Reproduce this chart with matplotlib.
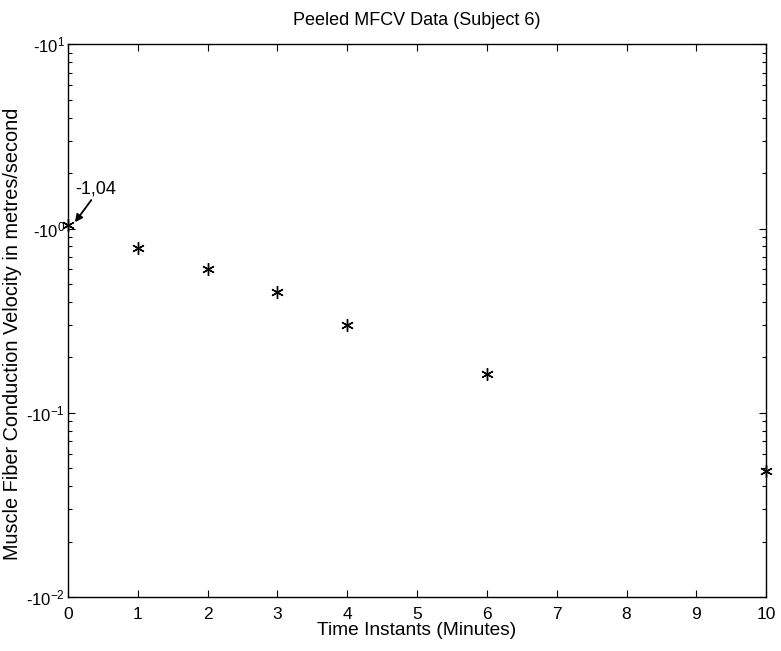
import math
import matplotlib
matplotlib.use('Agg')
import matplotlib.pyplot as plt
from matplotlib.ticker import FixedLocator, FuncFormatter, LogLocator, NullFormatter

plt.rcParams['font.family'] = ['Liberation Sans', 'DejaVu Sans']
plt.rcParams['mathtext.fontset'] = 'custom'
plt.rcParams['mathtext.rm'] = 'Liberation Sans'
plt.rcParams['mathtext.default'] = 'regular'

# peeled MFCV readings (m/s)
minutes = [0, 1, 2, 3, 4, 6, 10]
mfcv = [-1.04, -0.78, -0.60, -0.45, -0.30, -0.163, -0.048]
x_ticks = [0, 1, 2, 3, 4, 5, 6, 7, 8, 9, 10]
y_decades = [-2, -1, 0, 1]
note_text = '-1,04'

fig = plt.figure(figsize=(7.81, 6.51), dpi=100)
ax = fig.add_axes([0.087, 0.083, 0.894, 0.849])

mag = [-v for v in mfcv]
ax.plot(minutes, mag, linestyle='none', marker=(6, 2, 0), markersize=9,
        color='black', markeredgewidth=1.0, clip_on=False)

ax.set_yscale('log')
ax.set_ylim(10.0 ** y_decades[0], 10.0 ** y_decades[-1])
ax.set_xlim(x_ticks[0], x_ticks[-1])
ax.xaxis.set_major_locator(FixedLocator(x_ticks))
ax.yaxis.set_major_locator(FixedLocator([10.0 ** d for d in y_decades]))
ax.yaxis.set_minor_locator(LogLocator(base=10, subs=range(2, 10)))
ax.yaxis.set_minor_formatter(NullFormatter())
ax.yaxis.set_major_formatter(FuncFormatter(
    lambda v, pos: '-10$^{%d}$' % round(math.log10(v))))

ax.tick_params(which='both', direction='in', top=True, right=True, width=0.8)
ax.tick_params(axis='x', labelsize=12.5, pad=7)
ax.tick_params(axis='y', labelsize=12, pad=2)
ax.tick_params(which='major', length=5)
ax.tick_params(which='minor', length=3)
for s in ax.spines.values():
    s.set_linewidth(1.0)

ax.annotate(note_text, xy=(minutes[0] + 0.1, mag[0] * 1.04),
            xytext=(minutes[0] + 0.1, mag[0] * 1.42),
            fontsize=13, ha='left', va='bottom',
            arrowprops=dict(arrowstyle='-|>', color='black', lw=1.3,
                            shrinkA=0, shrinkB=0, mutation_scale=11,
                            relpos=(0.45, 0.0)))

ax.set_title('Peeled MFCV Data (Subject 6)', fontsize=13, pad=14)
ax.set_xlabel('Time Instants (Minutes)', fontsize=13.8)
ax.xaxis.set_label_coords(0.5, -0.046)
ax.set_ylabel('Muscle Fiber Conduction Velocity in metres/second', fontsize=14.3)
ax.yaxis.set_label_coords(-0.066, 0.476)

fig.savefig('out.png', dpi=100)
